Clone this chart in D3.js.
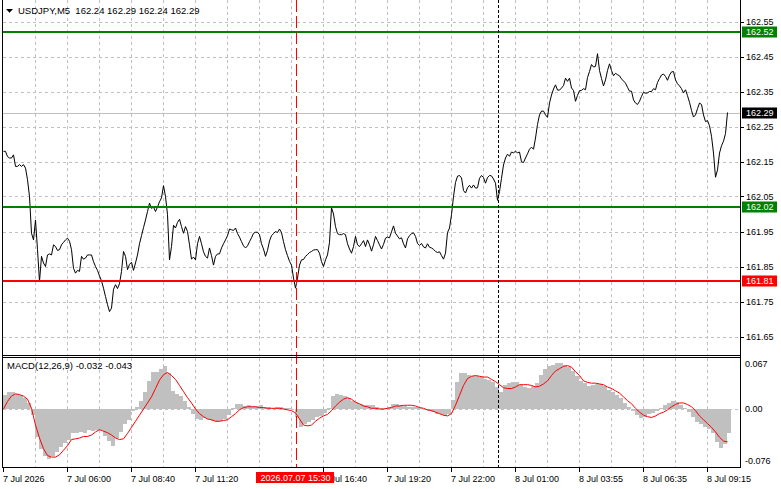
<!DOCTYPE html>
<meta charset="utf-8">
<style>
body { margin: 0; background: #fff; }
svg { display: block; font-family: "Liberation Sans", Arial, sans-serif; font-size: 9px; }
.grid line { stroke: #c0c0c0; stroke-dasharray: 3,3; shape-rendering: crispEdges; }
.frame { stroke: #000; fill: none; shape-rendering: crispEdges; }
</style>
<body>
<script src="https://d3js.org/d3.v7.min.js"></script>
<script>

// USDJPY M5 closes, one per bar
var closes = [
  162.179,162.179,162.164,162.160,162.160,162.169,162.136,162.136,162.141,162.136,
  162.141,162.131,162.098,162.050,161.945,161.926,161.983,161.898,161.807,161.879,
  161.860,161.850,161.883,161.886,161.883,161.912,161.907,161.896,161.898,161.912,
  161.919,161.926,161.931,161.922,161.898,161.845,161.831,161.839,161.836,161.879,
  161.871,161.874,161.883,161.883,161.883,161.864,161.850,161.839,161.823,161.809,
  161.788,161.764,161.741,161.721,161.731,161.785,161.798,161.787,161.801,161.836,
  161.893,161.879,161.841,161.856,161.862,161.839,161.860,161.883,161.915,161.938,
  161.961,161.983,162.007,162.031,162.016,162.020,162.007,162.020,162.035,162.046,
  162.081,162.050,161.998,161.869,161.907,161.968,161.960,161.976,161.985,161.964,
  161.945,161.964,161.950,161.912,161.871,161.877,161.869,161.915,161.936,161.915,
  161.892,161.879,161.874,161.903,161.881,161.854,161.879,161.886,161.886,161.903,
  161.915,161.926,161.938,161.957,161.955,161.953,161.960,161.944,161.934,161.921,
  161.909,161.903,161.909,161.921,161.932,161.945,161.948,161.948,161.941,161.915,
  161.900,161.879,161.896,161.923,161.938,161.944,161.950,161.947,161.957,161.947,
  161.921,161.898,161.881,161.865,161.854,161.817,161.788,161.817,161.854,161.869,
  161.870,161.879,161.884,161.890,161.893,161.897,161.898,161.898,161.888,161.864,
  161.850,161.869,161.883,161.919,162.018,162.000,161.964,161.944,161.941,161.941,
  161.944,161.941,161.915,161.900,161.888,161.907,161.936,161.912,161.907,161.915,
  161.924,161.907,161.926,161.912,161.894,161.912,161.936,161.924,161.912,161.900,
  161.913,161.931,161.934,161.932,161.949,161.966,161.945,161.937,161.929,161.932,
  161.915,161.903,161.929,161.938,161.944,161.946,161.936,161.916,161.910,161.916,
  161.906,161.903,161.915,161.905,161.903,161.899,161.893,161.890,161.892,161.881,
  161.871,161.888,161.947,161.960,161.998,162.050,162.090,162.108,162.110,162.103,
  162.067,162.060,162.075,162.082,162.074,162.083,162.074,162.075,162.102,162.110,
  162.104,162.088,162.104,162.110,162.109,162.100,162.088,162.039,162.064,162.102,
  162.140,162.160,162.171,162.165,162.177,162.175,162.179,162.175,162.177,162.149,
  162.147,162.160,162.172,162.185,162.191,162.185,162.217,162.256,162.283,162.294,
  162.294,162.283,162.276,162.317,162.340,162.357,162.369,162.354,162.354,162.360,
  162.367,162.388,162.379,162.388,162.360,162.353,162.322,162.339,162.352,162.353,
  162.358,162.355,162.390,162.407,162.427,162.420,162.422,162.458,162.410,162.387,
  162.366,162.383,162.410,162.429,162.410,162.395,162.402,162.398,162.395,162.386,
  162.380,162.374,162.362,162.351,162.351,162.326,162.317,162.313,162.322,162.336,
  162.348,162.345,162.346,162.350,162.350,162.358,162.355,162.376,162.387,162.397,
  162.400,162.393,162.382,162.397,162.406,162.407,162.383,162.372,162.366,162.358,
  162.346,162.355,162.338,162.319,162.296,162.277,162.283,162.301,162.317,162.313,
  162.283,162.264,162.267,162.252,162.222,162.174,162.105,162.126,162.174,162.195,
  162.208,162.230,162.290
];

// MACD(12,26,9), read every second bar
var macdHist = [
  0.018,0.023,0.023,0.020,0.018,0.014,0.008,-0.008,-0.036,-0.052,
  -0.062,-0.065,-0.062,-0.056,-0.050,-0.045,-0.041,-0.032,-0.031,-0.030,
  -0.031,-0.028,-0.029,-0.027,-0.028,-0.035,-0.042,-0.049,-0.038,-0.030,
  -0.020,-0.014,-0.002,0.003,0.010,0.022,0.037,0.048,0.049,0.052,
  0.056,0.047,0.024,0.020,0.017,0.010,0.003,-0.007,-0.013,-0.014,
  -0.012,-0.013,-0.015,-0.017,-0.015,-0.013,-0.008,0.001,0.007,0.006,
  0.004,0.005,0.004,0.004,0.005,0.003,0.003,0.002,0.003,0.003,
  0.001,0.001,0.000,-0.011,-0.024,-0.020,-0.017,-0.014,-0.011,-0.009,
  -0.005,0.002,0.017,0.020,0.019,0.017,0.014,0.011,0.008,0.007,
  0.005,0.005,0.005,0.003,0.001,0.001,0.003,0.006,0.006,0.005,
  0.004,0.003,0.003,0.003,0.002,-0.001,-0.002,-0.004,-0.006,-0.007,
  -0.009,-0.007,0.012,0.036,0.047,0.047,0.045,0.044,0.043,0.042,
  0.039,0.038,0.035,0.029,0.023,0.031,0.034,0.035,0.035,0.031,
  0.029,0.028,0.030,0.034,0.045,0.052,0.056,0.058,0.060,0.060,
  0.058,0.055,0.050,0.044,0.037,0.034,0.030,0.032,0.033,0.033,
  0.030,0.025,0.022,0.019,0.014,0.008,0.003,-0.002,-0.008,-0.012,
  -0.010,-0.007,-0.005,-0.002,0.002,0.005,0.008,0.010,0.009,0.005,
  0.001,-0.004,-0.011,-0.017,-0.020,-0.023,-0.026,-0.032,-0.043,-0.051,
  -0.046,-0.032
];
var macdSignal = [
  0.000,0.010,0.017,0.020,0.019,0.017,0.013,0.001,-0.021,-0.038,
  -0.052,-0.061,-0.063,-0.063,-0.060,-0.054,-0.048,-0.040,-0.039,-0.038,
  -0.036,-0.036,-0.034,-0.030,-0.027,-0.029,-0.031,-0.034,-0.038,-0.040,
  -0.039,-0.032,-0.024,-0.016,-0.008,0.000,0.008,0.016,0.027,0.038,
  0.045,0.048,0.044,0.039,0.031,0.023,0.015,0.008,0.000,-0.006,
  -0.010,-0.013,-0.014,-0.016,-0.016,-0.015,-0.014,-0.010,-0.006,-0.001,
  0.002,0.003,0.003,0.003,0.002,0.002,0.001,0.001,0.001,0.001,
  0.000,-0.001,-0.002,-0.005,-0.013,-0.021,-0.022,-0.021,-0.016,-0.012,
  -0.009,-0.007,-0.002,0.004,0.009,0.013,0.015,0.013,0.009,0.007,
  0.004,0.003,0.001,0.001,0.000,0.000,0.001,0.002,0.004,0.004,
  0.005,0.005,0.005,0.004,0.002,0.001,-0.001,-0.002,-0.004,-0.006,
  -0.008,-0.009,-0.006,0.005,0.018,0.031,0.040,0.043,0.044,0.043,
  0.042,0.042,0.039,0.036,0.032,0.028,0.027,0.027,0.029,0.032,
  0.032,0.032,0.031,0.029,0.030,0.033,0.037,0.044,0.050,0.053,
  0.056,0.057,0.055,0.049,0.044,0.037,0.035,0.034,0.034,0.033,
  0.032,0.029,0.027,0.024,0.021,0.016,0.011,0.007,0.001,-0.004,
  -0.008,-0.010,-0.011,-0.009,-0.006,-0.004,-0.001,0.003,0.006,0.008,
  0.008,0.006,0.003,-0.002,-0.009,-0.014,-0.019,-0.024,-0.030,-0.037,
  -0.042,-0.043
];

var timeLabels = ["7 Jul 2026", "7 Jul 06:00", "7 Jul 08:40", "7 Jul 11:20", "7 Jul 14:00", "7 Jul 16:40",
                  "7 Jul 19:20", "7 Jul 22:00", "8 Jul 01:00", "8 Jul 03:55", "8 Jul 06:35", "8 Jul 09:15"];
var barsPerLabel = 32;
var priceTicks = [162.55, 162.45, 162.35, 162.25, 162.15, 162.05, 161.95, 161.85, 161.75, 161.65];
var macdTicks = [0.067, 0.00, -0.076];
var resistance = 162.52, support = 162.02, stopLevel = 161.81;
var bid = 162.29;
var sessionBar = 146, sessionLabel = "2026.07.07 15:30";
var dayBar = 247;
var title = "USDJPY,M5  162.24 162.29 162.24 162.29";
var macdTitle = "MACD(12,26,9) -0.032 -0.043";

var W = 781, H = 489;
var left = 3, right = 740;
var pTop = 0, pBottom = 355, mTop = 358, mBottom = 467;

var x = d3.scaleLinear().domain([0, closes.length - 1]).range([3.5, 3.5 + 2 * (closes.length - 1)]);
var y = d3.scaleLinear().domain([161.65, 162.55]).range([336.5, 21.5]);
var ym = d3.scaleLinear().domain([-0.076, 0.067]).range([mBottom, mTop]);
var crisp = function(v) { return Math.round(v) + 0.5; };

var svg = d3.select("body").append("svg").attr("width", W).attr("height", H);

var defs = svg.append("defs");
defs.append("clipPath").attr("id", "cp").append("rect")
    .attr("x", left).attr("y", pTop).attr("width", right - left).attr("height", pBottom - pTop);
defs.append("clipPath").attr("id", "cm").append("rect")
    .attr("x", left).attr("y", mTop).attr("width", right - left).attr("height", mBottom - mTop);

// grid
var grid = svg.append("g").attr("class", "grid");
var vIdx = d3.range(16, closes.length, 16);
grid.selectAll(".vp").data(vIdx).enter().append("line")
    .attr("x1", function(d) { return x(d); }).attr("x2", function(d) { return x(d); })
    .attr("y1", pTop).attr("y2", pBottom);
grid.selectAll(".vm").data(vIdx).enter().append("line")
    .attr("x1", function(d) { return x(d); }).attr("x2", function(d) { return x(d); })
    .attr("y1", mTop).attr("y2", mBottom);
grid.selectAll(".hp").data(priceTicks).enter().append("line")
    .attr("x1", left).attr("x2", right)
    .attr("y1", function(d) { return crisp(y(d)); }).attr("y2", function(d) { return crisp(y(d)); });
grid.append("line").attr("x1", left).attr("x2", right)
    .attr("y1", crisp(ym(0))).attr("y2", crisp(ym(0)));

// price panel
var pp = svg.append("g").attr("clip-path", "url(#cp)");
pp.append("line").attr("x1", left).attr("x2", right)
    .attr("y1", crisp(y(bid))).attr("y2", crisp(y(bid)))
    .attr("stroke", "#c0c0c0").attr("shape-rendering", "crispEdges");
pp.append("path").datum(closes)
    .attr("fill", "none").attr("stroke", "#000").attr("stroke-width", 1)
    .attr("d", d3.line().x(function(d, i) { return x(i); }).y(function(d) { return y(d); }));
[[resistance, "#008000"], [support, "#008000"], [stopLevel, "#ff0000"]].forEach(function(l) {
  pp.append("line").attr("x1", left).attr("x2", right)
      .attr("y1", Math.round(y(l[0]))).attr("y2", Math.round(y(l[0])))
      .attr("stroke", l[1]).attr("stroke-width", 2).attr("shape-rendering", "crispEdges");
});

// macd panel
var mp = svg.append("g").attr("clip-path", "url(#cm)");
mp.selectAll("rect").data(macdHist).enter().append("rect")
    .attr("x", function(d, j) { return x(2 * j) - 1; })
    .attr("width", 4)
    .attr("y", function(d) { return Math.min(ym(d), ym(0)); })
    .attr("height", function(d) { return Math.abs(ym(d) - ym(0)); })
    .attr("fill", "#c0c0c0").attr("shape-rendering", "crispEdges");
mp.append("path").datum(macdSignal)
    .attr("fill", "none").attr("stroke", "#ff0000").attr("stroke-width", 1)
    .attr("d", d3.line().x(function(d, j) { return x(2 * j); }).y(function(d) { return ym(d); }));

// vertical markers
svg.append("line").attr("x1", crisp(x(sessionBar))).attr("x2", crisp(x(sessionBar)))
    .attr("y1", pTop).attr("y2", mBottom)
    .attr("stroke", "#ff0000").attr("stroke-dasharray", "12,4").attr("shape-rendering", "crispEdges");
svg.append("line").attr("x1", crisp(x(dayBar))).attr("x2", crisp(x(dayBar)))
    .attr("y1", pTop).attr("y2", mBottom)
    .attr("stroke", "#000").attr("stroke-dasharray", "3,2").attr("shape-rendering", "crispEdges");

// frames
svg.append("line").attr("class", "frame").attr("x1", left - 0.5).attr("x2", left - 0.5).attr("y1", 0).attr("y2", mBottom + 0.5);
svg.append("line").attr("class", "frame").attr("x1", right + 0.5).attr("x2", right + 0.5).attr("y1", 0).attr("y2", mBottom + 0.5);
svg.append("line").attr("class", "frame").attr("x1", left - 0.5).attr("x2", right + 0.5).attr("y1", pBottom + 0.5).attr("y2", pBottom + 0.5);
svg.append("line").attr("class", "frame").attr("x1", left - 0.5).attr("x2", right + 0.5).attr("y1", mTop - 0.5).attr("y2", mTop - 0.5);
svg.append("line").attr("class", "frame").attr("x1", left - 0.5).attr("x2", right + 0.5).attr("y1", mBottom + 0.5).attr("y2", mBottom + 0.5);

// right price axis
var ra = svg.append("g");
ra.selectAll("line").data(priceTicks).enter().append("line")
    .attr("x1", right).attr("x2", right + 4)
    .attr("y1", function(d) { return crisp(y(d)); }).attr("y2", function(d) { return crisp(y(d)); })
    .attr("stroke", "#000").attr("shape-rendering", "crispEdges");
ra.selectAll("text").data(priceTicks).enter().append("text")
    .attr("x", right + 6).attr("y", function(d) { return y(d); }).attr("dy", "0.35em")
    .text(function(d) { return d.toFixed(2); });

function priceTag(v, bg) {
  var g = svg.append("g");
  g.append("rect").attr("x", right + 2).attr("y", Math.round(y(v)) - 5.5)
      .attr("width", 35).attr("height", 11).attr("fill", bg);
  g.append("text").attr("x", right + 6).attr("y", y(v)).attr("dy", "0.35em")
      .attr("fill", "#fff").text(v.toFixed(2));
}
priceTag(resistance, "#008000");
priceTag(support, "#008000");
priceTag(stopLevel, "#ff0000");
priceTag(bid, "#000");

// right macd axis
svg.selectAll(".mt").data(macdTicks).enter().append("text")
    .attr("x", right + 5)
    .attr("y", function(d, i) { return ym(d) + (i === 0 ? 6 : i === 2 ? -6 : 0); })
    .attr("dy", "0.35em")
    .text(function(d) { return d === 0 ? "0.00" : d.toFixed(3); });

// time axis; the session tag hides the label it sits on
var boxL = x(sessionBar) - 39.5, boxR = boxL + 78;
var shown = timeLabels.map(function(d, i) { return {t: d, i: i * barsPerLabel}; })
    .filter(function(d) { return !(x(d.i) > boxL && x(d.i) + 40 < boxR); });
var ta = svg.append("g");
ta.selectAll("line").data(shown).enter().append("line")
    .attr("x1", function(d) { return crisp(x(d.i)) - 1; })
    .attr("x2", function(d) { return crisp(x(d.i)) - 1; })
    .attr("y1", mBottom + 1).attr("y2", mBottom + 5)
    .attr("stroke", "#000").attr("shape-rendering", "crispEdges");
ta.selectAll("text").data(shown).enter().append("text")
    .attr("x", function(d) { return x(d.i) - 0.5; })
    .attr("y", 481.5)
    .text(function(d) { return d.t; });
var sl = svg.append("g");
sl.append("rect").attr("x", boxL).attr("y", 472).attr("width", boxR - boxL).attr("height", 11).attr("fill", "#ff0000");
sl.append("text").attr("x", x(sessionBar)).attr("y", 481).attr("text-anchor", "middle")
    .attr("fill", "#fff").text(sessionLabel);

// titles
svg.append("path").attr("d", "M6,9L13,9L9.5,12.7Z").attr("fill", "#000");
svg.append("text").attr("x", 18).attr("y", 13.5).attr("xml:space", "preserve")
    .style("white-space", "pre").attr("font-size", "9.5px").text(title);
svg.append("text").attr("x", 7).attr("y", 369).attr("font-size", "9.5px").text(macdTitle);

</script>
